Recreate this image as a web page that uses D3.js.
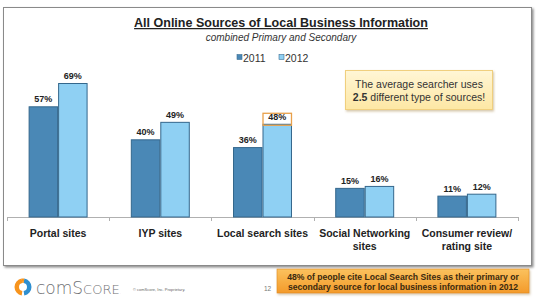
<!DOCTYPE html>
<html><head><meta charset="utf-8">
<script src="https://cdn.jsdelivr.net/npm/d3@7"></script>
<style>html,body{margin:0;padding:0;background:#fff;}svg{display:block;font-family:"Liberation Sans",Arial,sans-serif;}</style>
</head><body>
<svg id="c" width="550" height="304"></svg>
<script>
const categories = ["Portal sites","IYP sites","Local search sites","Social Networking|sites","Consumer review/|rating site"];
const series = ["2011","2012"];
const values2011 = [57,40,36,15,11];
const values2012 = [69,49,48,16,12];
const colors = {"2011":"#4a88b6","2012":"#8fd0f3"};

const svg = d3.select("#c");
const defs = svg.append("defs");
const sh = defs.append("filter").attr("id","sh").attr("x","-5%").attr("y","-5%").attr("width","115%").attr("height","120%");
sh.append("feDropShadow").attr("dx",1.5).attr("dy",1.5).attr("stdDeviation",1.2).attr("flood-color","#000").attr("flood-opacity",0.45);
const sh2 = defs.append("filter").attr("id","sh2").attr("x","-10%").attr("y","-10%").attr("width","125%").attr("height","140%");
sh2.append("feDropShadow").attr("dx",1).attr("dy",1.5).attr("stdDeviation",1.2).attr("flood-color","#a08040").attr("flood-opacity",0.45);
const gy = defs.append("linearGradient").attr("id","gy").attr("x1",0).attr("y1",0).attr("x2",0).attr("y2",1);
gy.append("stop").attr("offset","0%").attr("stop-color","#fff6d6");
gy.append("stop").attr("offset","100%").attr("stop-color","#fde7a4");
const go = defs.append("linearGradient").attr("id","go").attr("x1",0).attr("y1",0).attr("x2",0).attr("y2",1);
go.append("stop").attr("offset","0%").attr("stop-color","#fbc25e");
go.append("stop").attr("offset","100%").attr("stop-color","#f39a2a");

// frame
svg.append("rect").attr("x",3.5).attr("y",7.5).attr("width",528).attr("height",258)
  .attr("fill","#fff").attr("stroke","#8a8a8a").attr("stroke-width",1).attr("filter","url(#sh)");

// title
svg.append("text").attr("x",281).attr("y",27).attr("text-anchor","middle")
  .attr("font-size",12.5).attr("font-weight","bold").attr("fill","#222")
  .attr("text-decoration","underline").text("All Online Sources of Local Business Information");
svg.append("text").attr("x",281).attr("y",41).attr("text-anchor","middle")
  .attr("font-size",10).attr("font-style","italic").attr("fill","#333").text("combined Primary and Secondary");

// legend
const leg = svg.append("g");
const legX = [237, 279];
series.forEach((s,i)=>{
  leg.append("rect").attr("x",legX[i]).attr("y",54.5).attr("width",5).attr("height",5)
    .attr("fill",colors[s]).attr("stroke","#3d6f93").attr("stroke-width",0.6);
  leg.append("text").attr("x",legX[i]+6).attr("y",61.5).attr("font-size",10.5).attr("fill","#333").text(s);
});

// scales
const x0 = d3.scaleBand().domain(categories).range([7,518]).paddingInner(0.423).paddingOuter(0.2115);
const x1 = d3.scaleBand().domain(series).range([0,x0.bandwidth()]).padding(0);
const y = d3.scaleLinear().domain([0,69]).range([217,83]);

const data = categories.map((c,i)=>({cat:c, vals:[{s:"2011",v:values2011[i]},{s:"2012",v:values2012[i]}]}));

// axis line and ticks
const step = x0.step();
const baseY = y(0);
svg.append("line").attr("x1",x0.range()[0]).attr("x2",x0.range()[1]).attr("y1",baseY+0.5).attr("y2",baseY+0.5)
  .attr("stroke","#b0b0b0").attr("stroke-width",1);
d3.range(categories.length+1).forEach(i=>{
  const tx = Math.round(x0.range()[0] + i*step)+0.5;
  svg.append("line").attr("x1",tx).attr("x2",tx).attr("y1",baseY).attr("y2",baseY+4)
    .attr("stroke","#b0b0b0").attr("stroke-width",1);
});

// bars
const g = svg.selectAll("g.cat").data(data).enter().append("g").attr("class","cat")
  .attr("transform",d=>`translate(${x0(d.cat)},0)`);
g.selectAll("rect").data(d=>d.vals).enter().append("rect")
  .attr("x",d=>x1(d.s)+0.5).attr("y",d=>y(d.v)+0.5)
  .attr("width",x1.bandwidth()-1).attr("height",d=>baseY-y(d.v)-0.5)
  .attr("fill",d=>colors[d.s]).attr("stroke","#34678c").attr("stroke-width",1);
g.selectAll("text.v").data(d=>d.vals).enter().append("text").attr("class","v")
  .attr("x",d=>x1(d.s)+x1.bandwidth()/2).attr("y",d=>y(d.v)-4)
  .attr("text-anchor","middle").attr("font-size",9).attr("font-weight","bold").attr("fill","#222")
  .text(d=>d.v+"%");

// highlight box around Local search 2012 label
const lc = categories[2];
const hx = x0(lc)+x1("2012");
svg.append("rect").attr("x",hx+0.5).attr("y",y(values2012[2])-10.5).attr("width",x1.bandwidth()-1).attr("height",12)
  .attr("fill","none").attr("stroke","#e8a04a").attr("stroke-width",1.3);

// category labels
g.each(function(d){
  const lines = d.cat.split("|");
  const t = d3.select(this).append("text").attr("text-anchor","middle")
    .attr("font-size",10.5).attr("font-weight","bold").attr("fill","#222");
  lines.forEach((l,i)=>t.append("tspan").attr("x",x0.bandwidth()/2).attr("y",237+i*12.5).text(l));
});

// annotation callout
svg.append("rect").attr("x",345.5).attr("y",70.5).attr("width",147).attr("height",39)
  .attr("fill","url(#gy)").attr("stroke","#f0cf7e").attr("stroke-width",1).attr("filter","url(#sh2)");
svg.append("text").attr("x",419).attr("y",88).attr("text-anchor","middle").attr("font-size",10.5).attr("fill","#333")
  .text("The average searcher uses");
const t2 = svg.append("text").attr("x",419).attr("y",100.5).attr("text-anchor","middle").attr("font-size",10.5).attr("fill","#333");
t2.append("tspan").attr("font-weight","bold").text("2.5");
t2.append("tspan").text(" different type of sources!");

// footer
const lg = svg.append("g").attr("transform","translate(23,287)");
const arc = d3.arc().innerRadius(4).outerRadius(8.5);
lg.append("path").attr("d",arc({startAngle:Math.PI*1.05,endAngle:Math.PI*1.95})).attr("fill","#f7941d");
lg.append("path").attr("d",arc({startAngle:Math.PI*0.05,endAngle:Math.PI*0.95})).attr("fill","#2e8fd0");
lg.append("path").attr("d",arc({startAngle:-Math.PI*0.05,endAngle:Math.PI*0.05})).attr("fill","#f7941d");
const lt = svg.append("text").attr("x",36).attr("y",294).attr("font-size",17).attr("fill","#707174").attr("font-family","'DejaVu Sans',sans-serif").attr("font-weight","300");
lt.append("tspan").text("com");
lt.append("tspan").text("S");
lt.append("tspan").attr("font-size",13).text("CORE");
lt.append("tspan").attr("font-size",5).text(".");
svg.append("text").attr("x",133).attr("y",291).attr("font-size",4).attr("fill","#666").text("© comScore, Inc.  Proprietary.");
svg.append("text").attr("x",264).attr("y",291).attr("font-size",6.5).attr("fill","#777").text("12");

svg.append("rect").attr("x",277).attr("y",269).attr("width",252).attr("height",24)
  .attr("fill","url(#go)").attr("stroke","#e08a20").attr("stroke-width",0.6).attr("filter","url(#sh2)");
svg.append("text").attr("x",403).attr("y",279.5).attr("text-anchor","middle").attr("font-size",8.6).attr("font-weight","bold").attr("fill","#3a2a10")
  .text("48% of people cite Local Search Sites as their primary or");
svg.append("text").attr("x",403).attr("y",290).attr("text-anchor","middle").attr("font-size",8.6).attr("font-weight","bold").attr("fill","#3a2a10")
  .text("secondary source for local business information in 2012");
</script>
</body></html>
